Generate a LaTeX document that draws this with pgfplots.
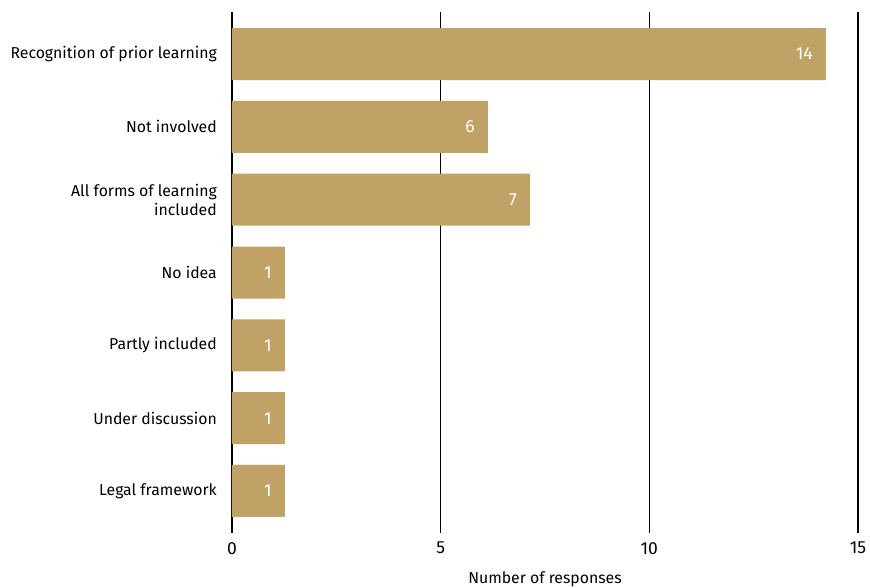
\documentclass[border=0pt]{standalone}
\usepackage{pgfplots}
\pgfplotsset{compat=1.18}
\usepackage{fontspec}
\setmainfont{Fira Sans}
\definecolor{barcol}{HTML}{C1A266}
\begin{document}
\begin{tikzpicture}
\path[use as bounding box] (-232pt,-54pt) rectangle (638pt,533pt);
\begin{axis}[
  at={(0,0)}, anchor=south west,
  scale only axis, width=626pt, height=521pt,
  xbar, bar width=52pt,
  xmin=0, xmax=15,
  ymin=-0.577, ymax=6.577, y dir=reverse,
  ytick={0,...,6},
  yticklabels={Recognition of prior learning, Not involved, {All forms of learning\\included}, No idea, Partly included, Under discussion, Legal framework},
  xtick={0,5,10,15},
  xmajorgrids, grid style={black, line width=1.1pt},
  axis line style={draw=none},
  major tick length=0pt,
  /pgf/number format/assume math mode=true,
  x tick label style={font=\fontsize{17.5}{20}\selectfont, inner sep=0pt, anchor=north, yshift=-9pt},
  y tick label style={font=\fontsize{15.8}{19}\selectfont, align=right, inner sep=0pt, anchor=east, xshift=-15pt},
  xlabel={Number of responses},
  xlabel style={font=\fontsize{15.8}{19}\selectfont, at={(axis description cs:0.5,0)}, anchor=north, inner sep=0pt, yshift=-38pt},
  point meta=explicit symbolic,
  nodes near coords,
  every node near coord/.append style={anchor=east, text=white, inner sep=0pt, xshift=-13pt, font=\fontsize{17.5}{20}\selectfont},
]
\addplot[fill=barcol, draw=none] coordinates {
  (14.23,0) [14]
  (6.13,1) [6]
  (7.14,2) [7]
  (1.27,3) [1]
  (1.27,4) [1]
  (1.27,5) [1]
  (1.27,6) [1]
};
\end{axis}
\end{tikzpicture}
\end{document}
